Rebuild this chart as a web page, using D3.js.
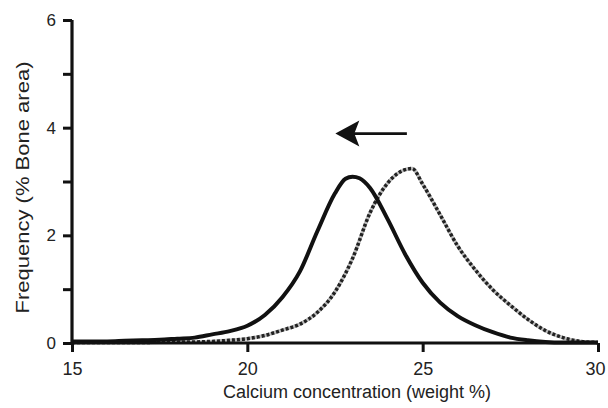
<!DOCTYPE html>
<html>
<head>
<meta charset="utf-8">
<script src="https://cdn.jsdelivr.net/npm/d3@7"></script>
<style>
  body { margin: 0; background: #fff; }
  text { font-family: "Liberation Sans", Arial, sans-serif; fill: #222; }
</style>
</head>
<body>
<svg id="chart" width="608" height="408"></svg>
<script>
// data
const solidX = [15, 15.5, 16, 16.5, 17, 17.5, 18, 18.5, 19, 19.5, 20, 20.5, 21, 21.5, 22, 22.5, 22.8, 23, 23.2, 23.5, 24, 24.5, 25, 25.5, 26, 26.5, 27, 27.5, 28, 28.5, 29, 29.5, 30];
const solidY = [0.03, 0.03, 0.03, 0.04, 0.05, 0.06, 0.08, 0.1, 0.16, 0.22, 0.32, 0.52, 0.85, 1.33, 2.08, 2.78, 3.05, 3.09, 3.06, 2.88, 2.3, 1.65, 1.12, 0.75, 0.5, 0.33, 0.2, 0.1, 0.05, 0.02, 0.01, 0.01, 0.01];
const dashX = [15, 16, 17, 18, 18.5, 19, 19.5, 20, 20.5, 21, 21.5, 22, 22.5, 23, 23.5, 24, 24.5, 24.7, 25, 25.5, 26, 26.5, 27, 27.5, 28, 28.5, 29, 29.5, 30];
const dashY = [0.01, 0.01, 0.01, 0.02, 0.02, 0.03, 0.05, 0.08, 0.14, 0.24, 0.35, 0.57, 0.95, 1.57, 2.42, 2.97, 3.22, 3.24, 2.95, 2.38, 1.8, 1.36, 0.99, 0.7, 0.44, 0.23, 0.1, 0.03, 0.01];
const xTicks = [15, 20, 25, 30];
const yTicks = [0, 2, 4, 6];
const yMinor = [1, 3, 5];
const arrowFrom = [24.55, 3.89];
const arrowTo = [22.51, 3.89];

const svg = d3.select("#chart");
const margin = { left: 72, right: 10, top: 20, bottom: 65 };
const W = 608, H = 408;

const x = d3.scaleLinear().domain([15, 30]).range([margin.left, W - margin.right]);
const y = d3.scaleLinear().domain([0, 6]).range([H - margin.bottom, margin.top]);

const line = d3.line()
  .x(d => x(d[0]))
  .y(d => y(d[1]))
  .curve(d3.curveMonotoneX);

const solid = solidX.map((v, i) => [v, solidY[i]]);
const dashed = dashX.map((v, i) => [v, dashY[i]]);

// dashed curve: grey base with black dashes on top
svg.append("path").datum(dashed)
  .attr("d", line).attr("fill", "none")
  .attr("stroke", "#bbb").attr("stroke-width", 3.5);
svg.append("path").datum(dashed)
  .attr("d", line).attr("fill", "none")
  .attr("stroke", "#222").attr("stroke-width", 3.5)
  .attr("stroke-dasharray", "3,2");

svg.append("path").datum(solid)
  .attr("d", line).attr("fill", "none")
  .attr("stroke", "#111").attr("stroke-width", 4)
  .attr("stroke-linejoin", "round");

// axes
const xAxis = svg.append("g")
  .attr("transform", `translate(0,${y(0)})`)
  .call(d3.axisBottom(x).tickValues(xTicks).tickSize(9).tickPadding(10));
const yAxis = svg.append("g")
  .attr("transform", `translate(${x(15)},0)`)
  .call(d3.axisLeft(y).tickValues(yTicks).tickFormat(d3.format("d")).tickSize(9).tickPadding(7));
svg.append("g")
  .attr("transform", `translate(${x(15)},0)`)
  .call(d3.axisLeft(y).tickValues(yMinor).tickSize(9).tickFormat(""))
  .select(".domain").remove();

svg.selectAll(".domain").attr("stroke", "#111").attr("stroke-width", 3.2);
svg.selectAll(".tick line").attr("stroke", "#111").attr("stroke-width", 3);
xAxis.select(".domain").attr("d", `M${x(15)},0H${x(30)}`);
yAxis.select(".domain").attr("d", `M0,${y(6)}V${y(0) + 1.5}`);
xAxis.selectAll(".tick text")
  .style("font-size", "18px").style("fill", "#222")
  .attr("dx", d => d === 30 ? -3 : 0);
yAxis.selectAll(".tick text")
  .style("font-size", "17px").style("fill", "#222");
svg.selectAll(".tick text")
  .style("font-family", "'Liberation Sans', Arial, sans-serif");

// axis titles
svg.append("text")
  .attr("x", (x(15) + x(30)) / 2 + 22).attr("y", 398)
  .attr("text-anchor", "middle").style("font-size", "18px")
  .text("Calcium concentration (weight %)");
svg.append("text")
  .attr("transform", `translate(29,${(y(0) + y(6)) / 2 + 6}) rotate(-90)`)
  .attr("text-anchor", "middle").style("font-size", "19px")
  .attr("textLength", 252).attr("lengthAdjust", "spacingAndGlyphs")
  .text("Frequency (% Bone area)");

// arrow
const ax0 = x(arrowFrom[0]), ay = y(arrowFrom[1]), tip = x(arrowTo[0]);
svg.append("line")
  .attr("x1", ax0).attr("y1", ay).attr("x2", tip + 18).attr("y2", ay)
  .attr("stroke", "#111").attr("stroke-width", 2.7);
svg.append("path")
  .attr("d", `M${tip},${ay} L${tip + 24},${ay - 13} L${tip + 19},${ay} L${tip + 24},${ay + 13} Z`)
  .attr("fill", "#111");
</script>
</body>
</html>
